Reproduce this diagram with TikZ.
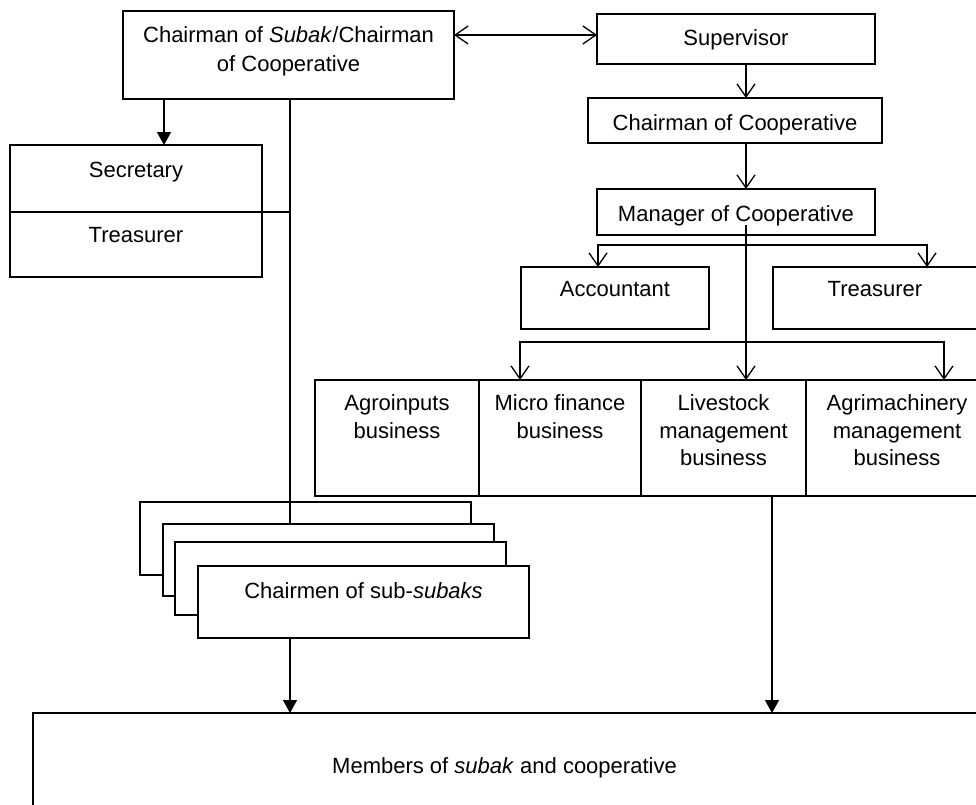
\documentclass[tikz,border=0pt]{standalone}
\usepackage{fontspec}
\setmainfont{Liberation Sans}
\usetikzlibrary{arrows.meta}
\begin{document}
\begin{tikzpicture}[x=1pt,y=-1pt,line width=1.3pt,
  box/.style={draw, fill=white, anchor=north west, inner sep=0pt, outer sep=0pt},
  txt/.style={anchor=north, inner sep=0pt, align=center, font=\fontsize{22}{28}\selectfont},
  opentip/.style={-{Straight Barb[length=13pt,width=18pt]}},
  openboth/.style={{Straight Barb[length=13pt,width=18pt]}-{Straight Barb[length=13pt,width=18pt]}},
  filltip/.style={-{Triangle[length=13pt,width=14pt]}}]
\useasboundingbox (0,0) rectangle (976,804);
\fill[white] (0,0) rectangle (976,804);

% boxes
\node[box, minimum width=331pt, minimum height=88pt] (top) at (123,11) {};
\node[box, minimum width=278pt, minimum height=50pt] (sup) at (597,14) {};
\node[box, minimum width=294pt, minimum height=45pt] (coop) at (588,98) {};
\node[box, minimum width=278pt, minimum height=46pt] (mgr) at (597,189) {};
\node[box, minimum width=252pt, minimum height=132pt] (st) at (10,145) {};
\node[box, minimum width=188pt, minimum height=62pt] (acct) at (521,267) {};
\node[box, minimum width=204pt, minimum height=62pt] (treas) at (773,267) {};
\node[box, minimum width=164pt, minimum height=116pt] (b1) at (315,380) {};
\node[box, minimum width=162pt, minimum height=116pt] (b2) at (479,380) {};
\node[box, minimum width=165pt, minimum height=116pt] (b3) at (641,380) {};
\node[box, minimum width=182pt, minimum height=116pt] (b4) at (806,380) {};
\node[box, minimum width=331pt, minimum height=73pt] (s1) at (140,502) {};
\node[box, minimum width=331pt, minimum height=72pt] (s2) at (163,524) {};
\node[box, minimum width=331pt, minimum height=73pt] (s3) at (175,542) {};
\node[box, minimum width=331pt, minimum height=72pt] (s4) at (198,566) {};
\node[box, minimum width=944pt, minimum height=100pt] (mem) at (33,713) {};

% texts
\node[txt, font=\fontsize{22}{29}\selectfont] (ttop) at (288.5,25.5) {Chairman of \textit{Subak}/Chairman\\of Cooperative};
\node[txt] (tsup) at (736,29) {Supervisor};
\node[txt] (tcoop) at (735,114) {Chairman of Cooperative};
\node[txt] (tmgr) at (736,204.5) {Manager of Cooperative};
\node[txt] (tsec) at (136,161) {Secretary};
\node[txt] (ttr1) at (136,227) {Treasurer};
\node[txt] (tacct) at (615,281) {Accountant};
\node[txt] (ttr2) at (875,281) {Treasurer};
\node[txt, font=\fontsize{22}{27.5}\selectfont] (tb1) at (397,394) {Agroinputs\\business};
\node[txt, font=\fontsize{22}{27.5}\selectfont] (tb2) at (560,394) {Micro finance\\business};
\node[txt, font=\fontsize{22}{27.5}\selectfont] (tb3) at (723.5,394) {Livestock\\management\\business};
\node[txt, font=\fontsize{22}{27.5}\selectfont] (tb4) at (897,394) {Agrimachinery\\management\\business};
\node[txt] (tsub) at (363.5,582) {Chairmen of sub-\textit{subaks}};
\node[txt] (tmem) at (504.5,757) {Members of \textit{subak} and cooperative};

% helper coordinates
\coordinate (divR) at (290,212);
\coordinate (xsec) at (164,0);
\coordinate (yda) at (0,35);
\coordinate (xm) at (746,0);
\coordinate (mv) at (746,225);
\coordinate (br1L) at (598,245);
\coordinate (br1R) at (927,245);
\coordinate (br2L) at (520,342);
\coordinate (br2R) at (944,342);
\coordinate (lv) at (772,0);

% connectors
\draw (st.west |- divR) -- (divR);
\draw (top.south -| divR) -- (s2.north -| divR);
\draw[filltip] (top.south -| xsec) -- (st.north -| xsec);
\draw[openboth] (top.east |- yda) -- (sup.west |- yda);
\draw[opentip] (sup.south -| xm) -- (coop.north -| xm);
\draw[opentip] (coop.south -| xm) -- (mgr.north -| xm);
\draw[openboth] (acct.north -| br1L) -- (br1L) -- (br1R) -- (treas.north -| br1R);
\draw[opentip] (mv) -- (b3.north -| mv);
\draw[openboth] (b2.north -| br2L) -- (br2L) -- (br2R) -- (b4.north -| br2R);
\draw[filltip] (s4.south -| divR) -- (mem.north -| divR);
\draw[filltip] (b3.south -| lv) -- (mem.north -| lv);
\end{tikzpicture}
\end{document}
